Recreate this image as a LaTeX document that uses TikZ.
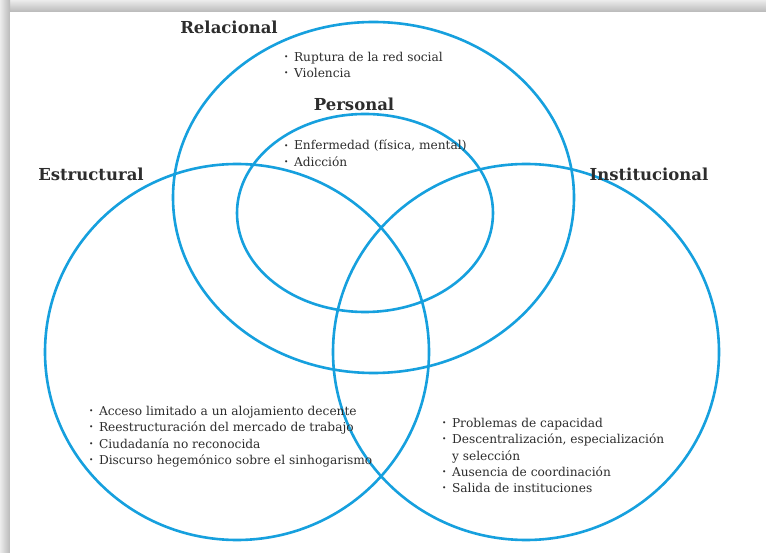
\documentclass[tikz,border=0pt]{standalone}
\usepackage{fontspec}
\setmainfont{DejaVu Serif}
\definecolor{vblue}{RGB}{22,160,222}
\definecolor{txt}{RGB}{45,45,45}
\newcommand{\bul}{\raisebox{0.28ex}{\scalebox{0.6}{\textbullet}}\hspace{0.45em}}
\begin{document}
\begin{tikzpicture}[x=1pt,y=-1pt,
  ring/.style={draw=vblue, line width=2.6pt},
  head/.style={font=\fontsize{16.5}{19}\selectfont\bfseries, text=txt, inner sep=0},
  items/.style={font=\fontsize{12.2}{16.3}\selectfont, text=txt, align=left, anchor=north west, inner sep=0}]
\useasboundingbox (0,0) rectangle (766,553);
\fill[white] (0,0) rectangle (766,553);
\shade[top color=gray!15, bottom color=gray!55] (0,0) rectangle (766,12);
\shade[left color=gray!15, right color=gray!55] (0,0) rectangle (10,553);
\fill[white] (10,12) rectangle (766,553);
% circles
\draw[ring] (373.5,197.5) ellipse [x radius=200.5, y radius=175.5];
\draw[ring] (365,213) ellipse [x radius=128, y radius=99];
\draw[ring] (237,352) ellipse [x radius=192, y radius=188];
\draw[ring] (526,352) ellipse [x radius=193, y radius=188];
% headings
\node[head] (rel) at (229,27) {Relacional};
\node[head] (per) at (354,104) {Personal};
\node[head] (est) at (91,174) {Estructural};
\node[head] (ins) at (649,174) {Institucional};
% lists
\node[items] (relitems) at (284,52) {\bul Ruptura de la red social\\ \bul Violencia};
\node[items] (peritems) at (284,140) {\bul Enfermedad (física, mental)\\ \bul Adicción};
\node[items] (estitems) at (89,406) {\bul Acceso limitado a un alojamiento decente\\ \bul Reestructuración del mercado de trabajo\\ \bul Ciudadanía no reconocida\\ \bul Discurso hegemónico sobre el sinhogarismo};
\node[items] (insitems) at (442,418) {\bul Problemas de capacidad\\ \bul Descentralización, especialización\\ \phantom{\bul}y selección\\ \bul Ausencia de coordinación\\ \bul Salida de instituciones};
\end{tikzpicture}
\end{document}
